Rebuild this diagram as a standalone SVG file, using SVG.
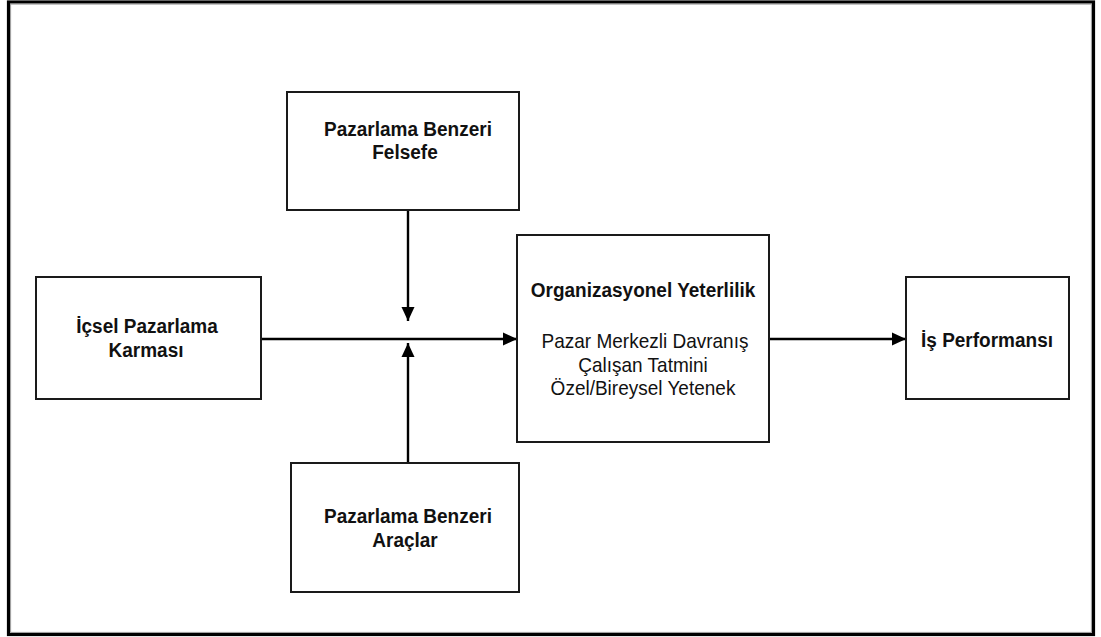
<svg xmlns="http://www.w3.org/2000/svg" width="1101" height="637" viewBox="0 0 1101 637">
  <style>
    .box { fill: #ffffff; stroke: #1a1a1a; stroke-width: 2; }
    .line { stroke: #000000; stroke-width: 2.4; fill: none; }
    .t { font-family: "Liberation Sans", Arial, sans-serif; font-size: 19px; fill: #111111; text-anchor: middle; }
    .b { font-weight: bold; }
  </style>
  <defs>
    <marker id="arrow" viewBox="0 0 14 14" refX="14" refY="7" markerWidth="14" markerHeight="14" markerUnits="userSpaceOnUse" orient="auto">
      <path d="M0,0.5 L14,7 L0,13.5 Z" fill="#000000"/>
    </marker>
  </defs>

  <rect x="0" y="0" width="1101" height="637" fill="#ffffff"/>
  <!-- outer frame -->
  <rect x="8.5" y="2" width="1085" height="632.5" fill="none" stroke="#000000" stroke-width="3.2"/>
  <rect x="10.6" y="4.1" width="1080.8" height="628.3" fill="none" stroke="#9a9a9a" stroke-width="1"/>

  <g id="connectors">
    <line class="line" x1="261" y1="339" x2="517" y2="339" marker-end="url(#arrow)"/>
    <line class="line" x1="408" y1="210" x2="408" y2="321" marker-end="url(#arrow)"/>
    <line class="line" x1="408" y1="463" x2="408" y2="343" marker-end="url(#arrow)"/>
    <line class="line" x1="769" y1="339" x2="906" y2="339" marker-end="url(#arrow)"/>
  </g>

  <g id="felsefe">
    <rect class="box" x="287" y="92" width="232" height="118"/>
    <text class="t b" transform="translate(408,136) scale(1,1.1)">Pazarlama Benzeri</text>
    <text class="t b" transform="translate(405,159) scale(1,1.1)">Felsefe</text>
  </g>

  <g id="araclar">
    <rect class="box" x="291" y="463" width="228" height="129"/>
    <text class="t b" transform="translate(408,523) scale(1,1.1)">Pazarlama Benzeri</text>
    <text class="t b" transform="translate(405,547) scale(1,1.1)">Araçlar</text>
  </g>

  <g id="icsel">
    <rect class="box" x="36" y="277" width="225" height="122"/>
    <text class="t b" transform="translate(147,333) scale(1,1.1)">İçsel Pazarlama</text>
    <text class="t b" transform="translate(146,357) scale(1,1.1)">Karması</text>
  </g>

  <g id="yeterlilik">
    <rect class="box" x="517" y="235" width="252" height="207"/>
    <text class="t b" transform="translate(643,297) scale(1,1.1)">Organizasyonel Yeterlilik</text>
    <text class="t" transform="translate(645,348) scale(1,1.1)">Pazar Merkezli Davranış</text>
    <text class="t" transform="translate(643,372) scale(1,1.1)">Çalışan Tatmini</text>
    <text class="t" transform="translate(643,395) scale(1,1.1)">Özel/Bireysel Yetenek</text>
  </g>

  <g id="performans">
    <rect class="box" x="906" y="277" width="163" height="122"/>
    <text class="t b" transform="translate(987,347) scale(1,1.1)">İş Performansı</text>
  </g>
</svg>
